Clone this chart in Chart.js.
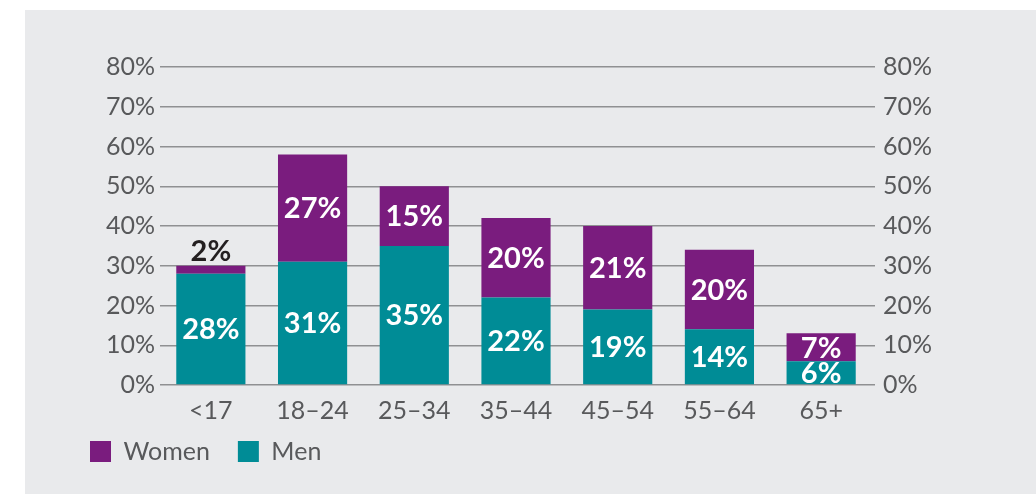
<!DOCTYPE html>
<html><head><meta charset="utf-8">
<script src="https://cdn.jsdelivr.net/npm/chart.js@4"></script>
<style>
html,body{margin:0;padding:0;background:#fff;overflow:hidden;width:1036px;height:494px}
#panel{position:absolute;left:25px;top:10px;width:1011px;height:484px;background:#e9eaec}
canvas{display:block}
</style></head><body>
<div id="panel"><canvas id="c" width="1011" height="484"></canvas></div>
<script>
const categories = ['<17', '18–24', '25–34', '35–44', '45–54', '55–64', '65+'];
const menValues = [28, 31, 35, 22, 19, 14, 6];
const womenValues = [2, 27, 15, 20, 21, 20, 7];
const yMin = 0, yMax = 80, yStep = 10;

const TEAL = '#008c96';
const PURPLE = '#7a1c7e';
const TICK = '#58595b';
const GRID = '#8f9092';
const FONT = 'Lato';

const segLabels = {
  id: 'segLabels',
  afterDatasetsDraw(chart) {
    const ctx = chart.ctx;
    ctx.save();
    ctx.font = 'bold 29px ' + FONT;
    ctx.textAlign = 'center';
    chart.data.datasets.forEach((ds, di) => {
      const meta = chart.getDatasetMeta(di);
      meta.data.forEach((el, i) => {
        const v = ds.data[i];
        const h = Math.abs(el.base - el.y);
        const txt = v + '%';
        if (h < 15) {
          ctx.fillStyle = '#231f20';
          ctx.textBaseline = 'alphabetic';
          ctx.fillText(txt, el.x, el.y - 5);
        } else {
          ctx.fillStyle = '#ffffff';
          ctx.textBaseline = 'middle';
          ctx.fillText(txt, el.x, (el.y + el.base) / 2 + 1);
        }
      });
    });
    ctx.restore();
  }
};

// let x-axis labels extend below the (compact) axis box so they are not clipped
const xLabelRoom = {
  id: 'xLabelRoom',
  afterLayout(chart) {
    const s = chart.scales.x;
    s.bottom = s.top + 45;
  }
};

const pct = v => v + '%';

new Chart(document.getElementById('c'), {
  type: 'bar',
  data: {
    labels: categories,
    datasets: [
      { label: 'Men', data: menValues, backgroundColor: TEAL, borderWidth: 0 },
      { label: 'Women', data: womenValues, backgroundColor: PURPLE, borderWidth: 0 }
    ]
  },
  options: {
    responsive: false,
    animation: false,
    categoryPercentage: 1,
    barPercentage: 0.68,
    layout: { padding: { left: 37, right: 0, top: 57, bottom: 20 } },
    plugins: {
      tooltip: { enabled: false },
      legend: {
        position: 'bottom',
        align: 'start',
        reverse: true,
        labels: {
          boxWidth: 21, boxHeight: 21, padding: 28,
          color: TICK, font: { family: FONT, size: 25 }
        }
      }
    },
    scales: {
      x: {
        stacked: true,
        grid: { display: false },
        border: { display: false },
        ticks: { color: TICK, font: { family: FONT, size: 25 }, padding: 3, maxRotation: 0, autoSkip: false },
        afterFit(s) { s.height = 26; }
      },
      y: {
        stacked: true,
        position: 'left',
        min: yMin, max: yMax,
        ticks: { stepSize: yStep, callback: pct, color: TICK, font: { family: FONT, size: 25 }, padding: 5 },
        grid: { color: GRID, lineWidth: 1.5, drawTicks: false },
        border: { display: false },
        afterFit(s) { s.width = 98; }
      },
      y2: {
        position: 'right',
        min: yMin, max: yMax,
        ticks: { stepSize: yStep, callback: pct, color: TICK, font: { family: FONT, size: 25 }, padding: 8 },
        grid: { drawOnChartArea: false, drawTicks: true, tickLength: 3, color: GRID, lineWidth: 1.5 },
        border: { display: false },
        afterFit(s) { s.width = 164; }
      }
    }
  },
  plugins: [segLabels, xLabelRoom]
});
</script>
</body></html>
